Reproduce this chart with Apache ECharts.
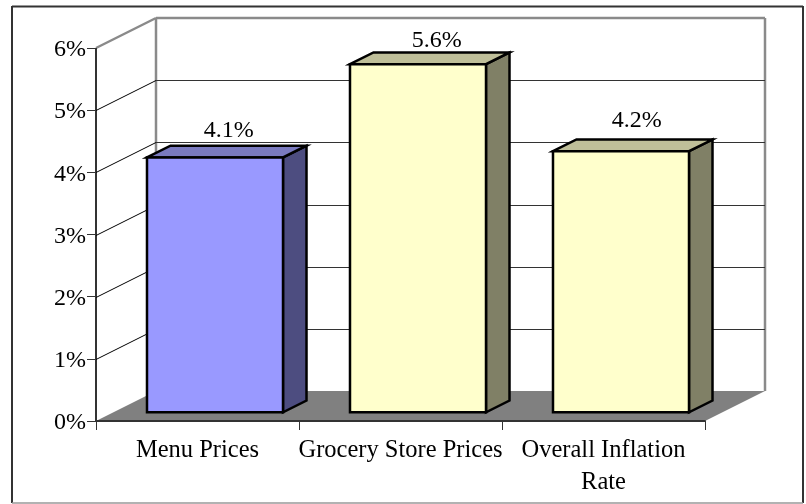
<!DOCTYPE html>
<html>
<head>
<meta charset="utf-8" />
<title>Price changes</title>
<script src="https://cdn.jsdelivr.net/npm/echarts@6/dist/echarts.min.js"></script>
<style>
  html, body { margin: 0; padding: 0; background: #fff; }
</style>
</head>
<body>
<div id="main" style="width:806px;height:504px"></div>
<script>
// data
var categories = ['Menu Prices', 'Grocery Store Prices', 'Overall Inflation\nRate'];
var values = [4.1, 5.6, 4.2];
var gridTicks = [1, 2, 3, 4, 5, 6];

// the fake 3d look
var wallDx = 60, wallDy = 30;   // depth of the whole box
var barDx = 23.5, barDy = 11.7; // depth of one bar
var barShiftX = 17.5, barShiftY = 8.7;
var barRatio = 0.67;
var font = '"Liberation Serif", "Times New Roman", serif';

// the value labels do not sit at the same gap above each bar
var labelNudgeX = [2, 7, 4];
var labelNudgeY = [2, 5, -2];

var faceColors = [
  { front: '#9999ff', side: '#4d4d80', top: '#7a7abf' },
  { front: '#ffffcc', side: '#808066', top: '#bfbf99' },
  { front: '#ffffcc', side: '#808066', top: '#bfbf99' }
];

function poly(points, fill, stroke, width) {
  return {
    type: 'polygon',
    shape: { points: points },
    style: { fill: fill, stroke: stroke, lineWidth: width, lineJoin: 'miter' }
  };
}
function line(x1, y1, x2, y2, color, width) {
  return {
    type: 'line',
    shape: { x1: x1, y1: y1, x2: x2, y2: y2 },
    style: { stroke: color, lineWidth: width }
  };
}

function renderBox(params, api) {
  var c = params.coordSys;
  var l = c.x, r = c.x + c.width, t = c.y, b = c.y + c.height;
  var gray = '#8a8a8a';
  return {
    type: 'group',
    children: [
      poly([[l, b], [l + wallDx, b - wallDy], [r + wallDx, b - wallDy], [r, b]], '#808080', null, 0),
      line(l + wallDx, t - wallDy, r + wallDx, t - wallDy, gray, 2.5),
      line(l + wallDx, t - wallDy, l + wallDx, b - wallDy, gray, 2.5),
      line(r + wallDx, t - wallDy, r + wallDx, b - wallDy, gray, 2.5),
      line(l, t, l + wallDx, t - wallDy, gray, 2.5),
      line(l, t, l, b, '#333', 2)
    ]
  };
}

function renderGrid(params, api) {
  var c = params.coordSys;
  var y = Math.round(api.coord([0, api.value(0)])[1]) + 0.5;
  var l = c.x;
  var r = c.x + c.width;
  var kids = [];
  if (api.value(0) < 6) {
    kids.push(line(l, y, l + wallDx, y - wallDy, '#000', 1));
    kids.push(line(l + wallDx, y - wallDy, r + wallDx, y - wallDy, '#333', 1));
  }
  return { type: 'group', children: kids };
}

function renderBar(params, api) {
  var i = api.value(0);
  var v = api.value(1);
  var top = api.coord([i, v]);
  var base = api.coord([i, 0]);
  var w = api.size([1, 0])[0] * barRatio;
  var x0 = top[0] + barShiftX - w / 2;
  var x1 = x0 + w;
  var yT = top[1] - barShiftY;
  var yB = base[1] - barShiftY;
  var col = faceColors[i];
  return {
    type: 'group',
    children: [
      poly([[x1, yT], [x1 + barDx, yT - barDy], [x1 + barDx, yB - barDy], [x1, yB]], col.side, '#000', 2.5),
      poly([[x0, yT], [x0 + barDx, yT - barDy], [x1 + barDx, yT - barDy], [x1, yT]], col.top, '#000', 2.5),
      poly([[x0, yT], [x1, yT], [x1, yB], [x0, yB]], col.front, '#000', 2.5),
      {
        type: 'text',
        style: {
          x: (x0 + x1) / 2 + barDx / 2 + labelNudgeX[i],
          y: yT - barDy - 5 + labelNudgeY[i],
          text: v.toFixed(1) + '%',
          font: '24px ' + font,
          fill: '#000',
          align: 'center',
          verticalAlign: 'bottom'
        }
      }
    ]
  };
}

var myChart = echarts.init(document.getElementById('main'), null, { renderer: 'canvas' });
myChart.setOption({
  animation: false,
  backgroundColor: '#fff',
  graphic: [
    { type: 'line', z: -10, shape: { x1: 12, y1: 6.5, x2: 803, y2: 6.5 }, style: { stroke: '#333', lineWidth: 2 } },
    { type: 'line', z: -10, shape: { x1: 12, y1: 6, x2: 12, y2: 503 }, style: { stroke: '#333', lineWidth: 2 } },
    { type: 'line', z: -10, shape: { x1: 803, y1: 6, x2: 803, y2: 503 }, style: { stroke: '#333', lineWidth: 2 } },
    { type: 'line', z: -10, shape: { x1: 12, y1: 503, x2: 803, y2: 503 }, style: { stroke: '#999', lineWidth: 1.5 } }
  ],
  grid: { left: 96, right: 101, top: 48, bottom: 83 },
  xAxis: {
    type: 'category',
    data: categories,
    z: 5,
    axisLine: { lineStyle: { color: '#333', width: 2 } },
    axisTick: { show: true, alignWithLabel: false, length: 9, lineStyle: { color: '#333', width: 1 } },
    axisLabel: {
      interval: 0,
      color: '#000',
      fontFamily: font,
      fontSize: 24.5,
      lineHeight: 32,
      margin: 14
    }
  },
  yAxis: {
    type: 'value',
    min: 0,
    max: 6,
    interval: 1,
    z: 5,
    axisLine: { show: false },
    axisTick: { show: true, length: 9, lineStyle: { color: '#333', width: 1 } },
    splitLine: { show: false },
    axisLabel: {
      formatter: '{value}%',
      color: '#000',
      fontFamily: font,
      fontSize: 24,
      margin: 10,
      // top align with a tiny line box drops the text about 2px below the tick
      verticalAlign: 'top',
      lineHeight: 4
    }
  },
  series: [
    { type: 'custom', z: 1, silent: true, renderItem: renderBox, data: [0] },
    { type: 'custom', z: 2, silent: true, renderItem: renderGrid, encode: { y: 0 }, data: gridTicks },
    {
      type: 'custom',
      z: 3,
      renderItem: renderBar,
      encode: { x: 0, y: 1 },
      data: values.map(function (v, i) { return [i, v]; })
    }
  ]
});
</script>
</body>
</html>
